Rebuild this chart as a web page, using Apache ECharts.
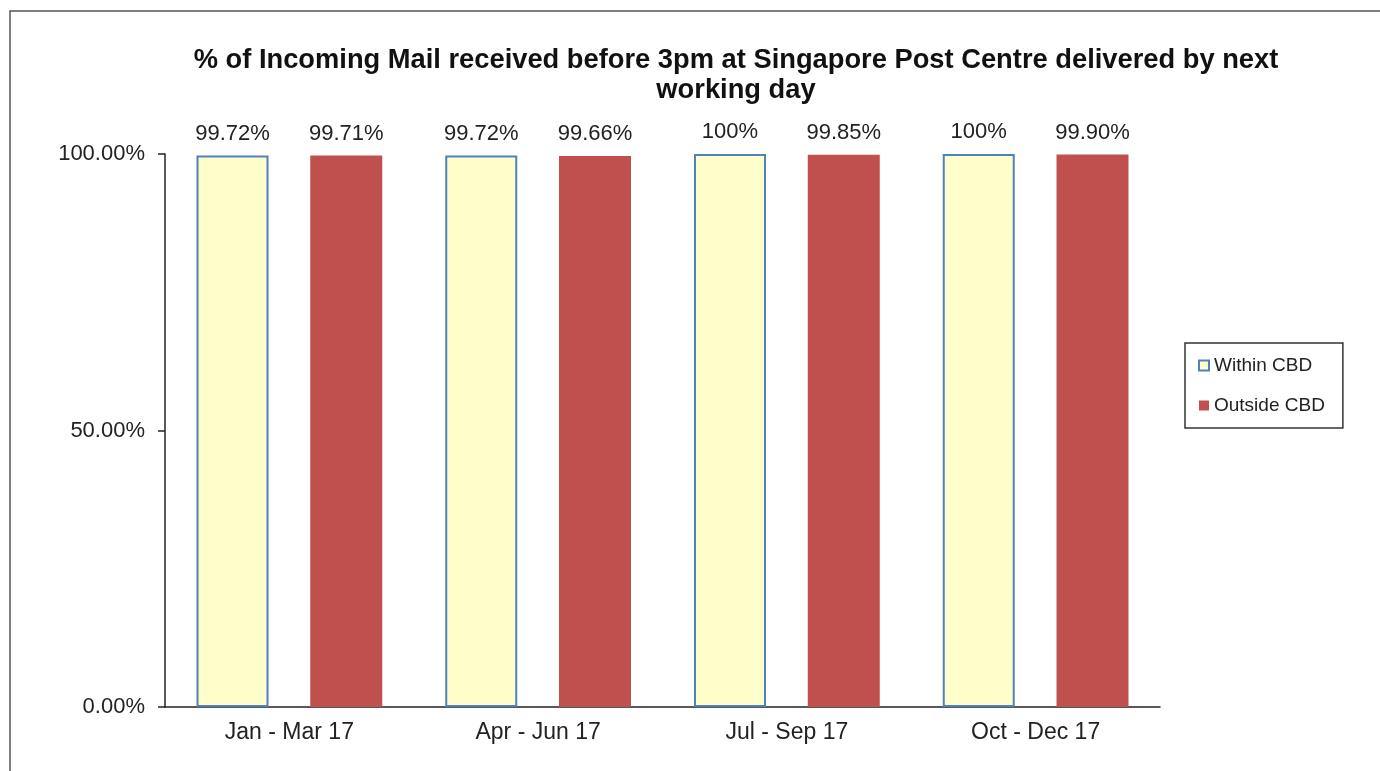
<!DOCTYPE html>
<html>
<head>
<meta charset="utf-8">
<script src="https://cdn.jsdelivr.net/npm/echarts@6/dist/echarts.min.js"></script>
<style>
  html, body { margin: 0; padding: 0; background: #fff; }
  #chart { width: 1380px; height: 771px; }
</style>
</head>
<body>
<div id="chart"></div>
<script>
const quarters = ["Jan - Mar 17", "Apr - Jun 17", "Jul - Sep 17", "Oct - Dec 17"];
const withinCBD = [99.72, 99.72, 100, 100];
const outsideCBD = [99.71, 99.66, 99.85, 99.9];
const yTicks = [0, 50, 100];

const font = "'Liberation Sans', Arial, sans-serif";
const pct = v => (v === 100 ? "100%" : v.toFixed(2) + "%");

const chart = echarts.init(document.getElementById("chart"));
chart.setOption({
  animation: false,
  textStyle: { fontFamily: font, color: "#222" },
  title: {
    text: "% of Incoming Mail received before 3pm at Singapore Post Centre delivered by next\nworking day",
    left: 731,
    top: 40,
    textAlign: "center",
    textStyle: { fontFamily: font, fontSize: 27.3, fontWeight: "bold", color: "#111", lineHeight: 30 },
  },
  legend: {
    orient: "vertical",
    left: 1185,
    top: 343,
    padding: [13, 18, 13, 13],
    itemGap: 21,
    itemWidth: 10,
    itemHeight: 10,
    itemStyle: { borderWidth: 2 },
    borderColor: "#333",
    borderWidth: 1.5,
    icon: "rect",
    textStyle: { fontFamily: font, fontSize: 19, color: "#222", padding: [0, 0, 0, 0] },
    data: ["Within CBD", "Outside CBD"],
  },
  grid: { left: 165, right: 220, top: 154, bottom: 64 },
  xAxis: {
    type: "category",
    data: quarters,
    axisLine: { lineStyle: { color: "#222", width: 1.5 } },
    axisTick: { length: 7, lineStyle: { color: "#222", width: 1.5 } },
    axisLabel: { fontFamily: font, fontSize: 23, color: "#222", margin: 14 },
  },
  yAxis: {
    type: "value",
    min: yTicks[0],
    max: yTicks[yTicks.length - 1],
    interval: yTicks[1] - yTicks[0],
    splitLine: { show: false },
    axisLine: { show: true, lineStyle: { color: "#222", width: 1.5 } },
    axisTick: { show: true, length: 7, lineStyle: { color: "#222", width: 1.5 } },
    axisLabel: { fontFamily: font, fontSize: 22, color: "#222", margin: 20, formatter: v => v.toFixed(2) + "%" },
  },
  series: [
    {
      name: "Within CBD",
      type: "bar",
      data: withinCBD,
      barWidth: 72,
      barGap: "58%",
      itemStyle: { color: "#FFFFCC", borderColor: "#4F81BD", borderWidth: 2 },
      label: { show: true, position: "top", distance: 11, fontFamily: font, fontSize: 22, color: "#222", formatter: p => pct(p.value) },
    },
    {
      name: "Outside CBD",
      type: "bar",
      data: outsideCBD,
      barWidth: 72,
      itemStyle: { color: "#C0504D" },
      label: { show: true, position: "top", distance: 11, fontFamily: font, fontSize: 22, color: "#222", formatter: p => pct(p.value) },
    },
  ],
  graphic: [
    {
      type: "rect",
      silent: true,
      shape: { x: 10, y: 11, width: 1400, height: 800 },
      style: { fill: null, stroke: "#555", lineWidth: 1.5 },
    },
  ],
});
</script>
</body>
</html>
